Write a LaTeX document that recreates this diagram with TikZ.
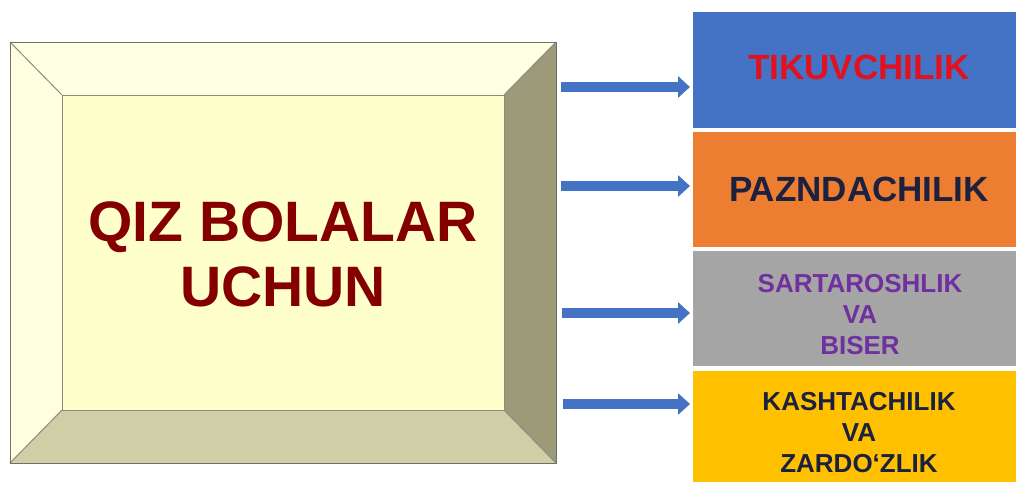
\documentclass[tikz,border=0pt]{standalone}
\usepackage{fontspec}
\setmainfont{Liberation Sans}
\usetikzlibrary{arrows.meta}
\definecolor{bevTop}{HTML}{FFFFE3}
\definecolor{bevLeft}{HTML}{FFFFE0}
\definecolor{bevRight}{HTML}{9C9A78}
\definecolor{bevBottom}{HTML}{CFCEA6}
\definecolor{bevFace}{HTML}{FFFFCC}
\definecolor{bevLine}{HTML}{8C8C80}
\definecolor{bBlue}{HTML}{4472C4}
\definecolor{bOrange}{HTML}{ED7D31}
\definecolor{bGrey}{HTML}{A5A5A5}
\definecolor{bGold}{HTML}{FFC000}
\definecolor{tRed}{HTML}{E3101E}
\definecolor{tNavy}{HTML}{1B213F}
\definecolor{tPurple}{HTML}{7030A0}
\definecolor{tMaroon}{HTML}{840000}
\tikzset{
  catbox/.style={draw=none, inner sep=0pt, anchor=north west},
  cattext/.style={font=\bfseries\fontsize{26}{31}\selectfont, align=center},
  bigarrow/.style={draw=bBlue, line width=10pt,
    -{Triangle[length=12pt,width=21pt]}},
}
\begin{document}
\begin{tikzpicture}[x=1pt,y=-1pt]
\useasboundingbox (0,0) rectangle (1016,482);
\fill[white] (0,0) rectangle (1016,482);
% bevel box
\coordinate (o1) at (10,42);
\coordinate (o2) at (556,42);
\coordinate (o3) at (556,463);
\coordinate (o4) at (10,463);
\coordinate (i1) at (62,95);
\coordinate (i2) at (504,95);
\coordinate (i3) at (504,410);
\coordinate (i4) at (62,410);
\fill[bevTop] (o1) -- (o2) -- (i2) -- (i1) -- cycle;
\fill[bevLeft] (o1) -- (i1) -- (i4) -- (o4) -- cycle;
\fill[bevRight] (o2) -- (o3) -- (i3) -- (i2) -- cycle;
\fill[bevBottom] (o4) -- (i4) -- (i3) -- (o3) -- cycle;
\fill[bevFace] (i1) rectangle (i3);
\draw[bevLine, line width=1pt] (o1) -- (i1) (o2) -- (i2) (o3) -- (i3) (o4) -- (i4);
\draw[bevLine, line width=1pt] (i1) rectangle (i3);
\draw[draw=bevLine!80!black, line width=1pt] (o1) rectangle (o3);
\node[font=\bfseries\fontsize{57}{65}\selectfont, text=tMaroon, align=center]
  (main) at (283,254) {QIZ BOLALAR\\UCHUN};
% category boxes
\node[catbox, fill=bBlue, minimum width=323pt, minimum height=116pt] (b1) at (693,12) {};
\node[catbox, fill=bOrange, minimum width=323pt, minimum height=115pt] (b2) at (693,132) {};
\node[catbox, fill=bGrey, minimum width=323pt, minimum height=115pt] (b3) at (693,251) {};
\node[catbox, fill=bGold, minimum width=323pt, minimum height=111pt] (b4) at (693,371) {};
\node[font=\bfseries\fontsize{35}{40}\selectfont, text=tRed] (t1) at (859,67) {TIKUVCHILIK};
\node[font=\bfseries\fontsize{35}{40}\selectfont, text=tNavy] (t2) at (859,189) {PAZNDACHILIK};
\node[cattext, text=tPurple] (t3) at (860,315) {SARTAROSHLIK\\VA\\BISER};
\node[cattext, text=tNavy] (t4) at (859,433) {KASHTACHILIK\\VA\\ZARDO‘ZLIK};
% arrows
\coordinate (s1) at (561,87);  \coordinate (e1) at (690,87);
\coordinate (s2) at (561,186); \coordinate (e2) at (690,186);
\coordinate (s3) at (562,313); \coordinate (e3) at (690,313);
\coordinate (s4) at (563,404); \coordinate (e4) at (690,404);
\draw[bigarrow] (s1) -- (e1);
\draw[bigarrow] (s2) -- (e2);
\draw[bigarrow] (s3) -- (e3);
\draw[bigarrow] (s4) -- (e4);
\end{tikzpicture}
\end{document}
